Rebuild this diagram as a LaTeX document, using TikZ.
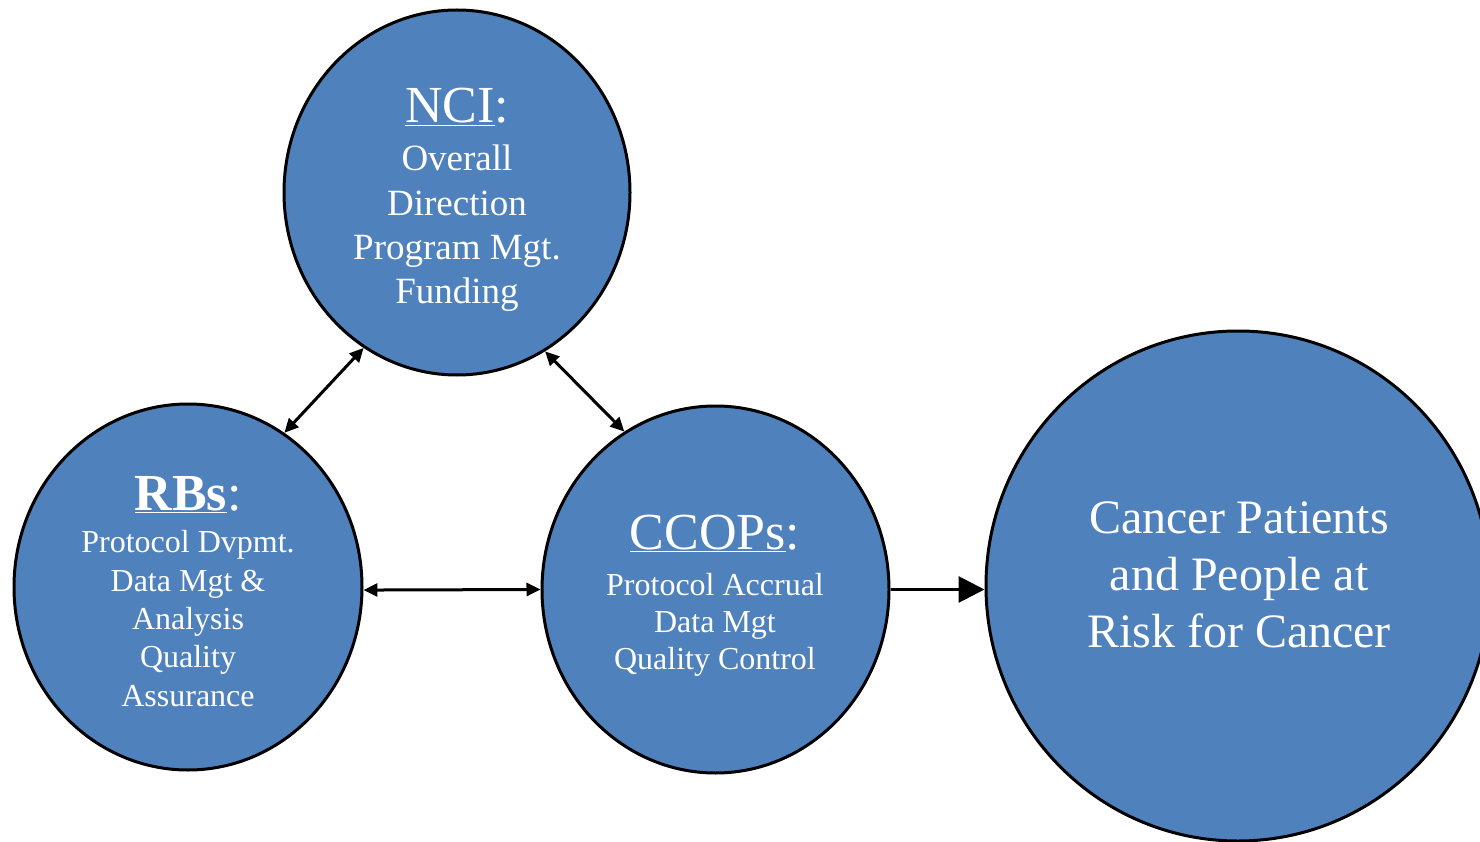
\documentclass[tikz,border=0pt]{standalone}
\usepackage{fontspec}
\setmainfont{Liberation Serif}
\usetikzlibrary{shapes.geometric,arrows.meta}
\definecolor{circfill}{HTML}{4F81BD}
\tikzset{
  bubble/.style={ellipse, draw=black, line width=3pt, fill=circfill, inner sep=0pt},
  title/.style={text=white, anchor=base, inner sep=0pt, font=\fontsize{52}{60}\selectfont},
  body/.style={text=white, anchor=base, inner sep=0pt, align=center},
  link/.style={line width=3pt, {Triangle[length=14pt,width=13pt]}-{Triangle[length=14pt,width=13pt]}},
  flow/.style={line width=3pt, -{Triangle[length=26pt,width=26pt]}}
}
\begin{document}
\begin{tikzpicture}[x=1pt,y=-1pt]
\useasboundingbox (0,0) rectangle (1480,842);
\clip (0,0) rectangle (1480,842);
\node[bubble, minimum width=346pt, minimum height=365pt] (nci) at (457,192.5) {};
\node[bubble, minimum width=348pt, minimum height=366pt] (rbs) at (188,587) {};
\node[bubble, minimum width=347pt, minimum height=367pt] (ccops) at (715.5,589.5) {};
\node[bubble, minimum width=504pt, minimum height=510pt] (cancer) at (1238,586) {};

\node[title] (ncit) at (457,123) {\underline{NCI}:};
\node[body, font=\fontsize{37}{44.5}\selectfont] (ncib) at (457,304) {Overall\\Direction\\Program Mgt.\\Funding};

\node[title] (rbst) at (188,510) {\underline{\textbf{RBs}}:};
\node[body, font=\fontsize{32}{38.3}\selectfont] (rbsb) at (188,706) {Protocol Dvpmt.\\Data Mgt \&\\Analysis\\Quality\\Assurance};

\node[title] (ccopst) at (715,549) {\underline{CCOPs}:};
\node[body, font=\fontsize{32}{37}\selectfont] (ccopsb) at (715,669) {Protocol Accrual\\Data Mgt\\Quality Control};

\node[body, font=\fontsize{48}{57}\selectfont] (cancert) at (1239,647) {Cancer Patients\\and People at\\Risk for Cancer};

\draw[link] (rbs.58.5) -- (nci.239.5);
\draw[link] (nci.299) -- (ccops.120.2);
\draw[link] (rbs.-1.6) -- (ccops.180);
\draw[flow] (ccops.east) -- (ccops.east -| cancer.west);
\end{tikzpicture}
\end{document}
